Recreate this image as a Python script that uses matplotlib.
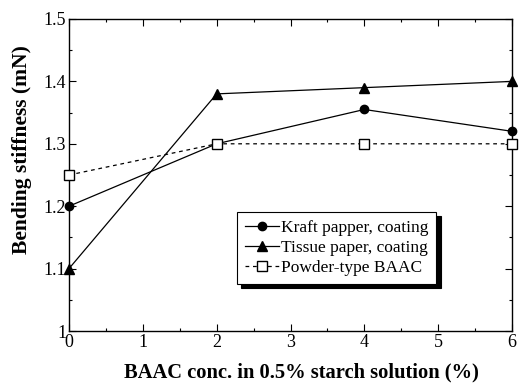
import matplotlib
matplotlib.use("Agg")
import matplotlib.pyplot as plt
from matplotlib.ticker import MultipleLocator

# datos
conc = [0, 2, 4, 6]
kraft = [1.20, 1.30, 1.355, 1.32]
tissue = [1.10, 1.38, 1.39, 1.40]
powder = [1.25, 1.30, 1.30, 1.30]

plt.rcParams["font.family"] = ["Liberation Serif", "DejaVu Serif"]

fig = plt.figure(figsize=(5.32, 3.85), dpi=100)
ax = fig.add_axes([69 / 532, 1 - 331 / 385, 443 / 532, 312 / 385])

ax.plot(conc, kraft, "-", color="black", lw=0.9, marker="o", ms=6,
        mfc="black", label="Kraft papper, coating", clip_on=False, zorder=3)
ax.plot(conc, tissue, "-", color="black", lw=0.9, marker="^", ms=7,
        mfc="black", label="Tissue paper, coating", clip_on=False, zorder=3)
ax.plot(conc, powder, "--", color="black", lw=0.9, marker="s", ms=6.5,
        mfc="white", dashes=(3, 3), label="Powder-type BAAC", clip_on=False, zorder=3)

ax.set_xlim(0, 6)
ax.set_ylim(1.0, 1.5)
ax.xaxis.set_major_locator(MultipleLocator(1))
ax.xaxis.set_minor_locator(MultipleLocator(0.5))
ax.yaxis.set_major_locator(MultipleLocator(0.1))
ax.yaxis.set_minor_locator(MultipleLocator(0.05))
ax.set_yticks([1.0, 1.1, 1.2, 1.3, 1.4, 1.5])
ax.set_yticklabels(["1", "1.1", "1.2", "1.3", "1.4", "1.5"])

ax.tick_params(which="both", direction="in", top=True, right=True,
               labelsize=13, width=0.8)
ax.tick_params(which="major", length=5, pad=2)
ax.tick_params(which="minor", length=2.5)
for s in ax.spines.values():
    s.set_linewidth(1.0)

ax.set_xlabel("BAAC conc. in 0.5% starch solution (%)", fontsize=14.8,
              fontweight="bold")
ax.set_ylabel("Bending stiffness (mN)", fontsize=15.5, fontweight="bold")
ax.xaxis.set_label_coords(0.524, -0.1)
ax.yaxis.set_label_coords(-0.084, 0.583)

leg = ax.legend(loc="upper left", bbox_to_anchor=(0.379, 0.381),
                borderaxespad=0, fancybox=False, edgecolor="black",
                framealpha=1, fontsize=12.5, handlelength=2.0,
                handletextpad=0.1, labelspacing=0.22, borderpad=0.45,
                shadow={"color": "black", "alpha": 1, "ox": 3, "oy": -3})
leg.get_frame().set_linewidth(0.8)

fig.savefig("out.png", dpi=100)
